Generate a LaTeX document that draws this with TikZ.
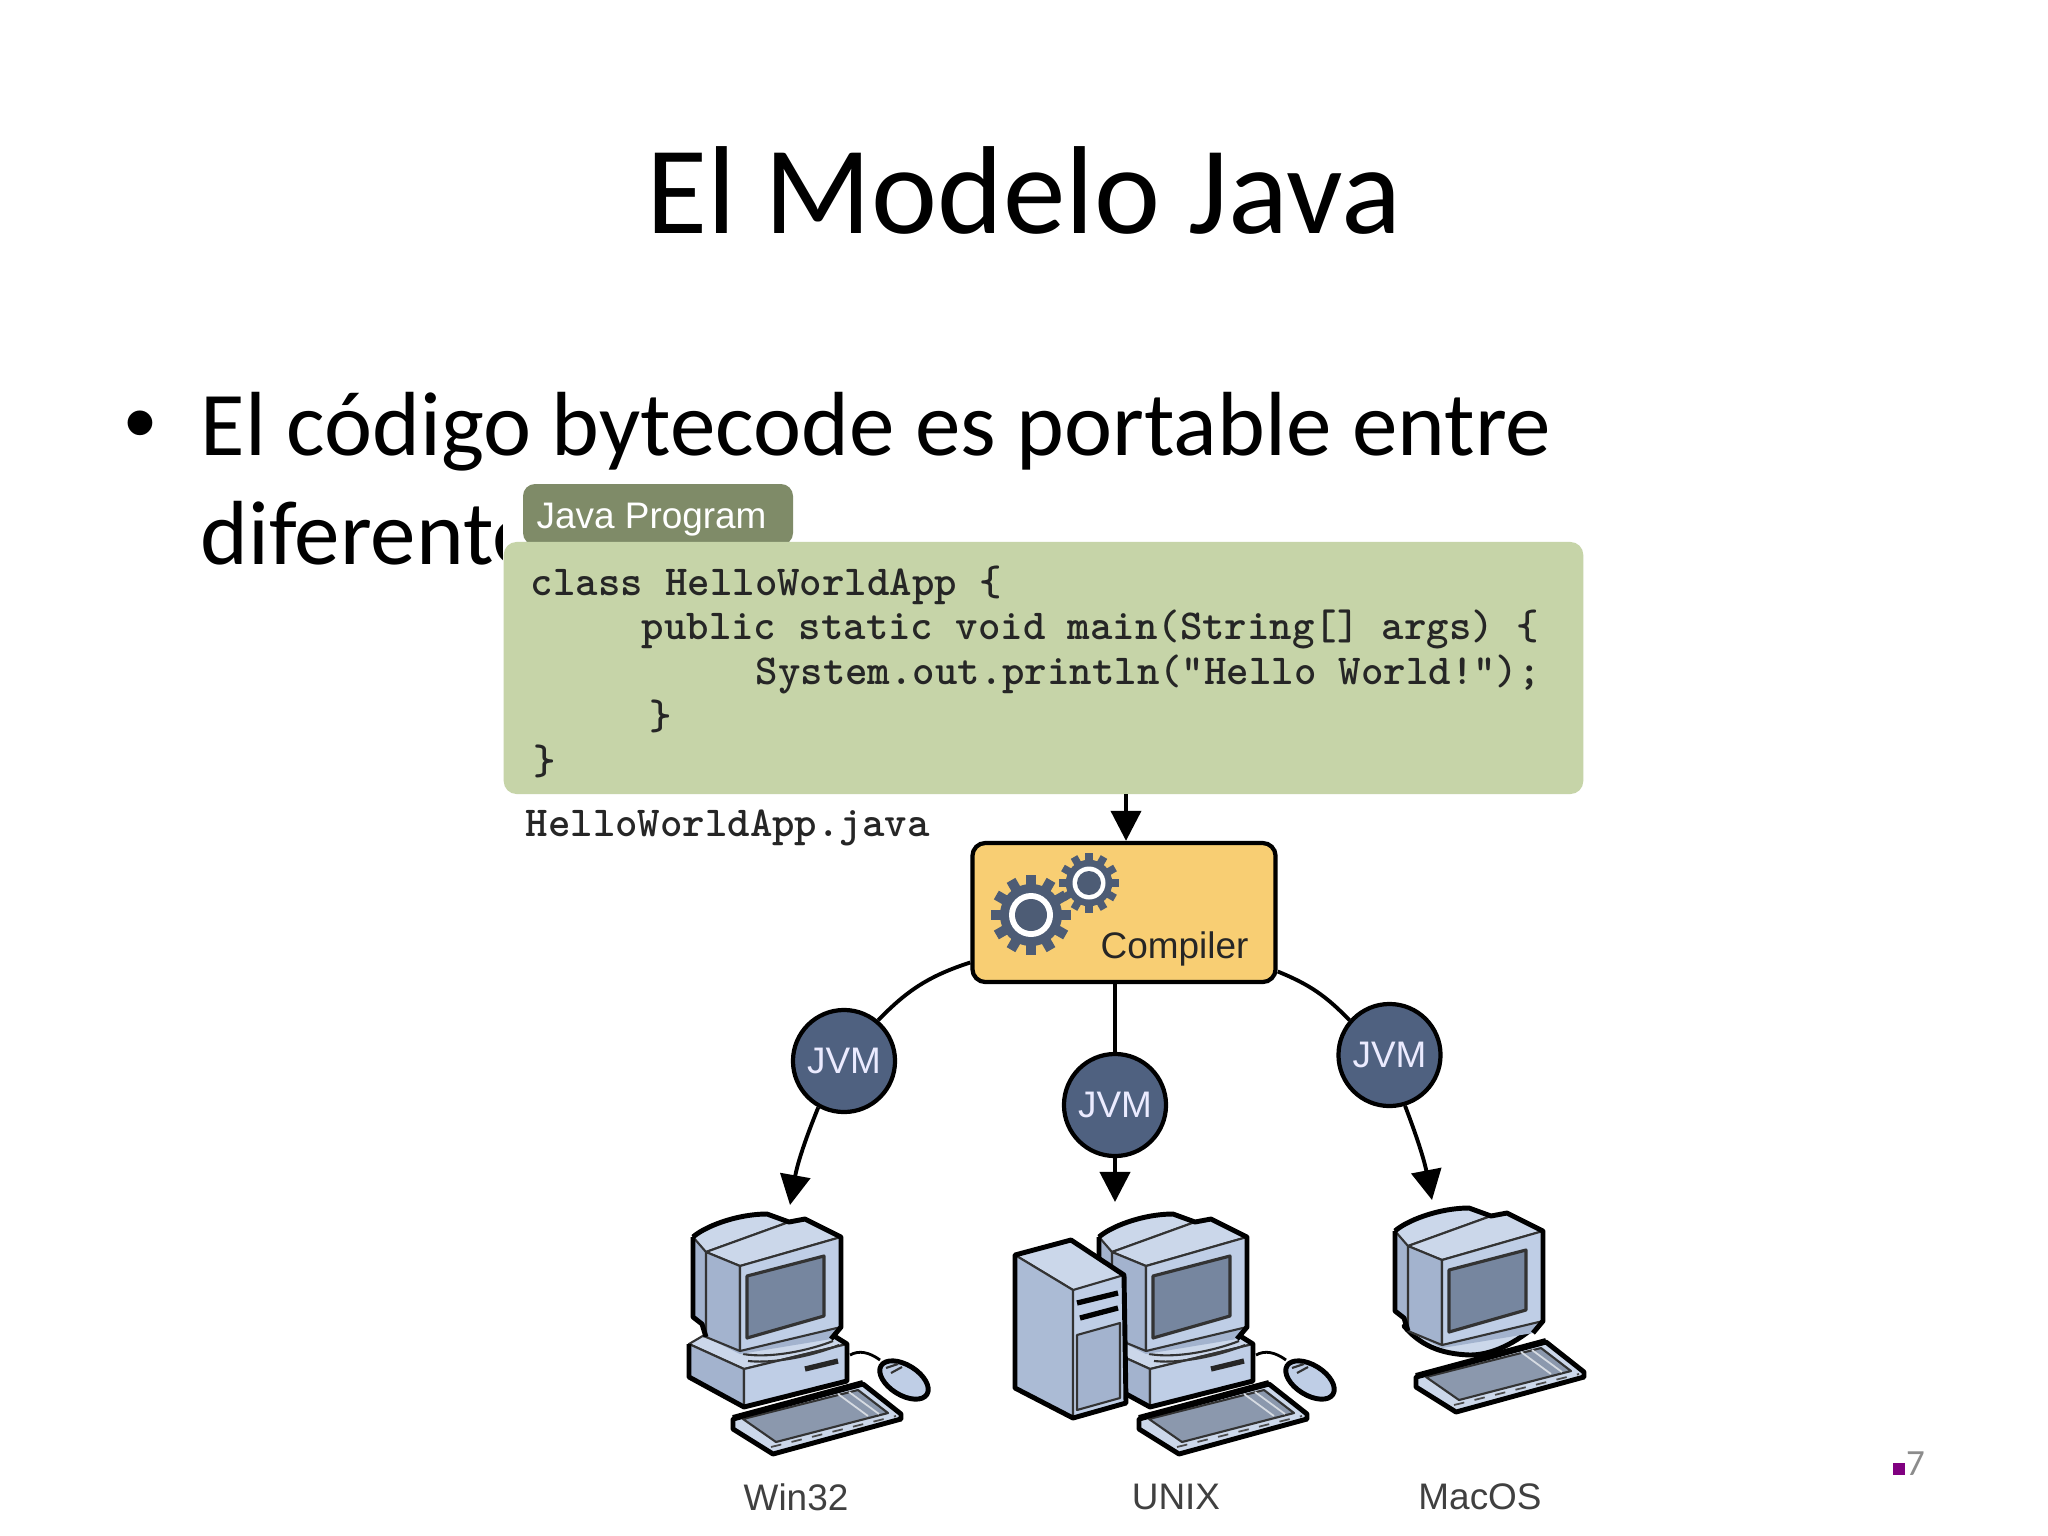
\documentclass[tikz,border=0pt]{standalone}
\usepackage{fontspec}
\setmainfont{Carlito}
\newfontfamily\figsans{Liberation Sans}
\usetikzlibrary{arrows.meta}
\definecolor{codegreen}{HTML}{C6D4A8}
\definecolor{tabgreen}{HTML}{7F8B68}
\definecolor{compyellow}{HTML}{F8CE73}
\definecolor{jvmblue}{HTML}{4F6180}
\definecolor{gearblue}{HTML}{4D5C75}
\definecolor{pcfront}{HTML}{BFCEE6}
\definecolor{pcside}{HTML}{A3B3CE}
\definecolor{pclight}{HTML}{CBD7EA}
\definecolor{pcscreen}{HTML}{76869F}
\definecolor{pagepurple}{HTML}{800080}
\tikzset{
  codeline/.style={anchor=base west, inner sep=0pt, font=\ttfamily\bfseries\addfontfeature{FakeBold=0.8}\fontsize{12.15}{14}\selectfont, text=black!85},
  figlabel/.style={inner sep=0pt, font=\figsans\fontsize{10.5}{12}\selectfont},
  jvmnode/.style={circle, draw=black, line width=1.2pt, fill=jvmblue, minimum size=1.02cm, inner sep=0pt, text=blue!8, figlabel},
  wire/.style={line width=1.1pt},
  wirearrow/.style={wire, -{Triangle[length=0.3cm, width=0.3cm]}},
  pcthick/.style={line width=1.4pt, line join=round, draw=black},
  pcthin/.style={line width=0.6pt, line join=round, draw=black!80},
  pics/gearwheel/.style={code={
    \fill[gearblue] (0,0) circle [radius=31];
    \foreach \a in {0,30,...,330}
      \fill[gearblue, rotate=\a] (-5,25) rectangle (5,40);
    \fill[white] (0,0) circle [radius=22];
    \fill[gearblue] (0,0) circle [radius=16];
  }},
  pics/monitor/.style={code={
    \fill[pcside] (0,23) .. controls (11,13) and (43,0) .. (74,0) -- (96,8) -- (112,5) -- (148,23) -- (148,113) -- (138,125) -- (47,140) -- (13,123) -- (9,110) -- (0,103) -- cycle;
    \draw[pcthin, fill=pclight] (0,23) .. controls (11,13) and (43,0) .. (74,0) -- (96,8) -- (13,38) -- cycle;
    \draw[pcthin, fill=pclight] (13,38) -- (96,8) -- (112,5) -- (148,23) -- (47,52) -- cycle;
    \draw[pcthin, fill=pcside] (13,38) -- (47,52) -- (47,137) -- (13,123) -- cycle;
    \draw[pcthin, fill=pcfront] (47,52) -- (148,23) -- (148,113) -- (47,137) -- cycle;
    \draw[pcthin, fill=pcscreen, line width=0.9pt] (54,62) -- (131,42) -- (131,102) -- (54,124) -- cycle;
    \draw[pcthick] (0,23) .. controls (11,13) and (43,0) .. (74,0) -- (96,8) -- (112,5) -- (148,23) -- (148,113) -- (138,125);
    \draw[pcthick] (0,23) -- (0,103) -- (9,110) -- (13,123);
  }},
  pics/basebox/.style={code={
    \draw[pcthin, fill=pclight] (-4,130) -- (13,120) -- (138,120) -- (154,130) -- (51,155) -- cycle;
    \draw[pcthin, fill=pcside] (-4,130) -- (51,155) -- (51,193) -- (-4,163) -- cycle;
    \draw[pcthin, fill=pcfront] (51,155) -- (154,130) -- (154,167) -- (51,193) -- cycle;
    \draw[pcthin] (50,140) .. controls (80,145) and (120,135) .. (140,127);
    \draw[pcthin] (55,147) .. controls (85,150) and (125,140) .. (146,131);
    \draw[pcthick] (-4,130) -- (-4,163) -- (51,193) -- (154,167) -- (154,130) -- (138,120);
    \draw[line width=1.5pt, draw=black!85] (112,155) -- (145,147);
  }},
  pics/keyboard/.style={code={
    \draw[pcthick, fill=pclight] (0,0) -- (130,-35) -- (168,-5) -- (168,0) -- (40,35) -- (0,10) -- cycle;
    \draw[pcthin, fill=pcscreen!85] (10,0) -- (125,-29) -- (155,-6) -- (43,23) -- cycle;
    \draw[white!70!pcscreen, line width=0.5pt] (105,-25) -- (135,-3);
    \draw[white!70!pcscreen, line width=0.5pt] (116,-27) -- (146,-5);
    \draw[black!70, line width=0.5pt, dashed] (38,28) -- (163,-3);
    \draw[line width=1.7pt, black] (0,-1) -- (130,-36);
  }},
  pics/mouse/.style={code={
    \draw[pcthick, line width=0.8pt] (-54,-25) .. controls (-45,-30) and (-35,-28) .. (-24,-20);
    \draw[pcthick, fill=pcfront] (0,0) ellipse [x radius=0.27cm, y radius=0.15cm, rotate=-32];
    \draw[pcthin] (-18,-12) -- (-6,-16);
    \draw[pcthin] (-13,-7) -- (-2,-13);
  }},
}
\begin{document}
\begin{tikzpicture}[x=0.01cm, y=-0.01cm]
\path[use as bounding box, fill=white] (0,0) rectangle (2048,1536);
% slide text
\node (title) [anchor=base, inner sep=0pt, font=\fontsize{35.6}{40}\selectfont] at (1024,233) {El Modelo Java};
\node (bulletmark) [anchor=base, inner sep=0pt, font=\figsans\fontsize{25.9}{30}\selectfont] at (140,453) {•};
\node (lineone) [anchor=base west, inner sep=0pt, font=\fontsize{25.9}{30}\selectfont] at (200,455) {El código bytecode es portable entre};
\node (linetwo) [anchor=base west, inner sep=0pt, font=\fontsize{25.9}{30}\selectfont] at (200,564) {diferente};
% the pasted figure hides the rest of the second line
\fill[white] (503,483) rectangle (1590,1536);
% program
\fill[tabgreen, rounded corners=0.12cm] (523,545) -- (523,484) -- (793,484) -- (793,545) -- cycle;
\node (tablabel) [figlabel, text=white, anchor=base west] at (536,528) {Java Program};
\node (program) [fill=codegreen, rounded corners=0.13cm, minimum width=10.79cm, minimum height=2.52cm, inner sep=0pt] at (1043.5,668) {};
\node (codea) [codeline] at (530,595) {class HelloWorldApp \{};
\node (codeb) [codeline] at (641,639) {public static void main(String[] args) \{};
\node (codec) [codeline] at (755,684) {System.out.println(”Hello World!”);};
\node (coded) [codeline] at (641,729) {\hspace{0.08cm}\}};
\node (codee) [codeline] at (530,774) {\hspace{0.03cm}\}};
\node (filename) [codeline] at (525,836) {HelloWorldApp.java};
% compiler
\node (compiler) [draw=black, line width=1.2pt, fill=compyellow, rounded corners=0.13cm, minimum width=3.03cm, minimum height=1.39cm, inner sep=0pt] at (1124,912.5) {};
\pic at (1031,915) {gearwheel};
\pic[scale=0.75] at (1089,883) {gearwheel};
\node (compilerlabel) [figlabel, text=black!85, anchor=base west] at (1100,958) {Compiler};
% jvms
\node (jvmwin) [jvmnode] at (844,1061) {JVM};
\node (jvmunix) [jvmnode] at (1115,1105) {JVM};
\node (jvmmac) [jvmnode] at (1389.5,1055) {JVM};
\coordinate (compilerin) at (1126,794);
\coordinate (tipwin) at (790,1205);
\coordinate (tipunix) at (1115,1202);
\coordinate (tipmac) at (1432,1200);
\draw[wirearrow] (compilerin) to (compiler.north -| compilerin);
\draw[wire] (compiler.198.5) to[bend right=14] (jvmwin.50);
\draw[wire] (compiler.south -| jvmunix) to (jvmunix.north);
\draw[wire] (compiler.339) to[bend left=12] (jvmmac.139);
\draw[wirearrow] (jvmwin.241) to[bend right=6] (tipwin);
\draw[wirearrow] (jvmunix.south) to (tipunix);
\draw[wirearrow] (jvmmac.287) to[bend left=5] (tipmac);
% machines
\pic at (693,1214) {basebox};
\pic at (693,1214) {monitor};
\pic at (733,1419) {keyboard};
\pic at (904,1380) {mouse};
\pic at (1099,1214) {basebox};
\pic at (1099,1214) {monitor};
\pic at (1139,1419) {keyboard};
\pic at (1310,1380) {mouse};
% tower in front of the unix box
\fill[pcfront] (1015,1255) -- (1071,1240) -- (1124,1275) -- (1126,1403) -- (1073,1418) -- (1015,1388) -- cycle;
\draw[pcthin, fill=pclight] (1015,1255) -- (1071,1240) -- (1124,1275) -- (1073,1290) -- cycle;
\draw[pcthin, fill=pcside!70!pcfront] (1015,1255) -- (1073,1290) -- (1073,1418) -- (1015,1388) -- cycle;
\draw[pcthin, fill=pcside] (1077,1335) -- (1120,1323) -- (1120,1398) -- (1077,1410) -- cycle;
\draw[line width=1.5pt] (1077,1303) -- (1118,1293);
\draw[line width=1.5pt] (1080,1318) -- (1118,1308);
\draw[pcthick] (1015,1255) -- (1071,1240) -- (1124,1275) -- (1126,1403) -- (1073,1418) -- (1015,1388) -- cycle;
% mac: no desktop box, round foot under the screen
\draw[pcthick, fill=pclight] (1404,1326) .. controls (1420,1345) and (1440,1354) .. (1470,1355) .. controls (1490,1355) and (1515,1345) .. (1541,1321) -- cycle;
\pic at (1395,1208) {monitor};
\pic at (1416,1377) {keyboard};
% labels
\node (labelwin) [figlabel, text=black!75] at (796,1497) {Win32};
\node (labelunix) [figlabel, text=black!75] at (1176,1497) {UNIX};
\node (labelmac) [figlabel, text=black!75] at (1480,1497) {MacOS};
% page number
\node (pagemark) [fill=pagepurple, minimum size=0.115cm, inner sep=0pt] at (1899,1469) {};
\node (pagenumber) [anchor=base, inner sep=0pt, text=black!45, font=\fontsize{10.5}{12}\selectfont] at (1915.5,1475) {7};
\end{tikzpicture}
\end{document}
